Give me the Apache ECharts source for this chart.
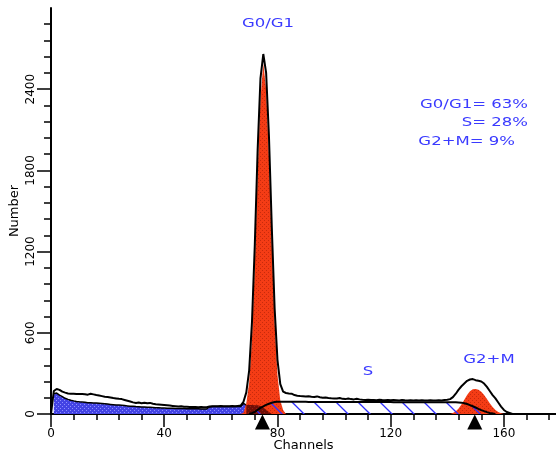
<!DOCTYPE html>
<html>
<head>
<meta charset="utf-8">
<script src="https://cdn.jsdelivr.net/npm/echarts@6/dist/echarts.min.js"></script>
<style>
html,body{margin:0;padding:0;background:#fff;}
#chart{width:556px;height:454px;}
</style>
</head>
<body>
<div id="chart"></div>
<script>
// ---------- data ----------
// raw histogram, one value per channel starting at channel 0
const histogramStart = 0;
const histogram = [
  0,170,185,178,165,158,152,150,150,148,
  147,148,146,143,150,145,140,136,132,128,
  126,122,118,115,112,110,104,98,92,86,
  82,85,80,83,79,82,76,72,70,68,
  66,64,62,60,58,56,58,54,53,52,
  51,52,50,51,49,50,56,58,58,57,
  59,58,57,58,59,58,60,62,90,160,
  320,680,1250,1950,2480,2660,2520,2050,1380,780,
  400,220,165,155,152,150,140,135,133,132,
  130,131,128,126,130,124,120,122,118,116,
  115,114,118,112,110,114,110,108,112,108,
  105,104,106,103,104,102,105,103,102,104,
  101,103,102,100,103,101,100,102,99,101,
  100,102,99,100,101,99,100,102,100,104,
  106,110,125,150,180,205,225,245,255,258,
  250,245,240,225,200,170,140,115,85,55,
  30,15,8,0
];
// debris component (blue)
const debrisStart = 1;
const debris = [
  150,155,140,128,116,108,102,97,93,90,
  88,86,84,83,82,81,79,77,75,73,
  71,69,67,66,64,62,60,58,57,55,
  54,52,51,50,49,48,47,46,45,44,
  43,42,42,41,41,40,40,39,39,38,
  38,38,37,37,37,52,56,56,56,56,
  56,56,56,56,56,56,56,78,66,0
];
// debris lying under the G0/G1 peak (dark)
const debrisUnderG1Start = 69;
const debrisUnderG1 = [66,66,66,65,64,60,48,32,15,0];
// G0/G1 peak (red)
const g1Start = 67;
const g1 = [0,10,80,230,560,1100,1780,2330,2590,2400,1900,1250,680,290,100,30,0];
// S phase (hatched)
const sStart = 70;
const sPhase = [
  0,6,16,30,45,57,67,76,83,88,
  90,90,90,90,90,90,90,90,90,90,
  90,89,89,89,89,89,89,89,89,89,
  89,89,89,89,88,88,88,88,88,88,
  88,88,88,88,88,88,88,88,88,88,
  88,87,87,87,87,87,87,87,87,87,
  87,87,87,87,87,86,86,86,86,86,
  86,86,86,86,85,84,80,74,66,57,
  48,38,29,21,14,8,4,0
];
// G2+M peak (red)
const g2Start = 141;
const g2 = [0,8,20,40,70,105,140,168,182,185,180,165,140,110,80,52,30,15,6,0];
// peak position markers (channels)
const markerChannels = [74.7, 149.7];
// axis ticks
const xMajorTicks = [0,40,80,120,160];
const xMinorTicks = [8,16,24,32,48,56,64,72,88,96,104,112,128,136,144,152,168,176];
const yMajorTicks = [0,600,1200,1800,2400];
const yMinorTicks = [120,240,360,480,720,840,960,1080,1320,1440,1560,1680,1920,2040,2160,2280,2520,2640,2760,2880];
// annotation texts
const peakTitle = 'G0/G1';
const statLines = ['G0/G1= 63%', 'S= 28%', 'G2+M= 9%'];
const sLabel = 'S';
const g2Label = 'G2+M';

// ---------- helpers ----------
function pairs(start, arr){ return arr.map((v,i)=>[start+i, v]); }
function dotPattern(bg, fg, size){
  const c = document.createElement('canvas');
  c.width = size; c.height = size;
  const g = c.getContext('2d');
  g.fillStyle = bg; g.fillRect(0,0,size,size);
  g.fillStyle = fg;
  g.fillRect(0,0,1,1);
  g.fillRect(2,2,1,1);
  return {image: c, repeat: 'repeat'};
}
function hatchPattern(color, size){
  const c = document.createElement('canvas');
  c.width = size; c.height = size;
  const g = c.getContext('2d');
  g.strokeStyle = color; g.lineWidth = 1.3;
  g.beginPath();
  g.moveTo(-2,-2); g.lineTo(size+2,size+2);
  g.stroke();
  return {image: c, repeat: 'repeat'};
}

const blueFill = dotPattern('#4343e4', '#8e8eff', 4);
const redFill = dotPattern('#f43c15', '#c82a0c', 4);
const darkFill = dotPattern('#6e0f08', '#9a1c0e', 4);
const hatchFill = hatchPattern('#2f2fff', 22);

const xMax = 178.4, yMax = 3000;
const plain = v => String(v);
const axisFont = {fontFamily: 'DejaVu Sans', fontSize: 12, color: '#000'};
const blue = '#3a3aff';
const annFont = '13px "DejaVu Sans"';
const sx = 1.27;

const chart = echarts.init(document.getElementById('chart'), null, {renderer: 'canvas'});
const option = {
  animation: false,
  backgroundColor: '#fff',
  grid: {left: 51, right: 0, top: 8, bottom: 40, containLabel: false, outerBoundsMode: 'none'},
  xAxis: [
    {
      type: 'value', min: 0, max: xMax, position: 'bottom',
      name: 'Channels', nameLocation: 'middle', nameGap: 25, nameMoveOverlap: false,
      nameTextStyle: {fontFamily: 'DejaVu Sans', fontSize: 13, color: '#000'},
      axisLine: {show: true, lineStyle: {color: '#000', width: 2}},
      axisTick: {show: true, length: 13, customValues: xMajorTicks, lineStyle: {color: '#000', width: 1.5}},
      axisLabel: Object.assign({show: true, margin: 14, customValues: xMajorTicks, formatter: plain}, axisFont),
      splitLine: {show: false}
    },
    {
      type: 'value', min: 0, max: xMax, position: 'bottom',
      axisLine: {show: false},
      axisTick: {show: true, length: 6, customValues: xMinorTicks, lineStyle: {color: '#000', width: 1.5}},
      axisLabel: {show: false},
      splitLine: {show: false}
    }
  ],
  yAxis: [
    {
      type: 'value', min: 0, max: yMax, position: 'left',
      name: 'Number', nameLocation: 'middle', nameGap: 30, nameRotate: 90, nameMoveOverlap: false,
      nameTextStyle: {fontFamily: 'DejaVu Sans', fontSize: 13, color: '#000'},
      axisLine: {show: true, lineStyle: {color: '#000', width: 2}},
      axisTick: {show: true, length: 14, customValues: yMajorTicks, lineStyle: {color: '#000', width: 1.5}},
      axisLabel: Object.assign({show: true, rotate: 90, margin: 14, customValues: yMajorTicks, formatter: plain}, axisFont),
      splitLine: {show: false}
    },
    {
      type: 'value', min: 0, max: yMax, position: 'left',
      axisLine: {show: false},
      axisTick: {show: true, length: 7, customValues: yMinorTicks, lineStyle: {color: '#000', width: 1.5}},
      axisLabel: {show: false},
      splitLine: {show: false}
    }
  ],
  series: [
    {
      name: 'Debris', type: 'line', data: pairs(debrisStart, debris),
      showSymbol: false, symbol: 'none', z: 2,
      lineStyle: {color: '#000', width: 1.5},
      areaStyle: {color: blueFill, opacity: 1}
    },
    {
      name: 'G0/G1', type: 'line', data: pairs(g1Start, g1),
      showSymbol: false, symbol: 'none', z: 3,
      lineStyle: {width: 0},
      areaStyle: {color: redFill, opacity: 1}
    },
    {
      name: 'G2+M', type: 'line', data: pairs(g2Start, g2),
      showSymbol: false, symbol: 'none', z: 3,
      lineStyle: {width: 0},
      areaStyle: {color: redFill, opacity: 1}
    },
    {
      name: 'Debris under G1', type: 'line', data: pairs(debrisUnderG1Start, debrisUnderG1),
      showSymbol: false, symbol: 'none', z: 4,
      lineStyle: {width: 0},
      areaStyle: {color: darkFill, opacity: 1}
    },
    {
      name: 'S', type: 'line', data: pairs(sStart, sPhase),
      showSymbol: false, symbol: 'none', z: 5,
      lineStyle: {color: '#000', width: 2},
      areaStyle: {color: hatchFill, opacity: 1}
    },
    {
      name: 'Histogram', type: 'line', data: pairs(histogramStart, histogram),
      showSymbol: false, symbol: 'none', z: 6,
      lineStyle: {color: '#000', width: 2},
      markPoint: {
        symbol: 'triangle', symbolSize: [15, 15], symbolOffset: [0, 8],
        itemStyle: {color: '#000'}, label: {show: false},
        data: markerChannels.map(c => ({coord: [c, 0]}))
      }
    }
  ],
  graphic: [
    {type: 'text', x: 268, y: 24, scaleX: sx, z: 100,
     style: {text: peakTitle, fill: blue, font: annFont, align: 'center', verticalAlign: 'middle', textAlign: 'center', textVerticalAlign: 'middle'}},
    {type: 'text', x: 528, y: 105, scaleX: sx, z: 100,
     style: {text: statLines[0], fill: blue, font: annFont, align: 'right', verticalAlign: 'middle', textAlign: 'right', textVerticalAlign: 'middle'}},
    {type: 'text', x: 528, y: 123, scaleX: sx, z: 100,
     style: {text: statLines[1], fill: blue, font: annFont, align: 'right', verticalAlign: 'middle', textAlign: 'right', textVerticalAlign: 'middle'}},
    {type: 'text', x: 515, y: 142, scaleX: sx, z: 100,
     style: {text: statLines[2], fill: blue, font: annFont, align: 'right', verticalAlign: 'middle', textAlign: 'right', textVerticalAlign: 'middle'}},
    {type: 'text', x: 368, y: 372, scaleX: sx, z: 100,
     style: {text: sLabel, fill: blue, font: annFont, align: 'center', verticalAlign: 'middle', textAlign: 'center', textVerticalAlign: 'middle'}},
    {type: 'text', x: 489, y: 360, scaleX: sx, z: 100,
     style: {text: g2Label, fill: blue, font: annFont, align: 'center', verticalAlign: 'middle', textAlign: 'center', textVerticalAlign: 'middle'}}
  ]
};
chart.setOption(option);
</script>
</body>
</html>
